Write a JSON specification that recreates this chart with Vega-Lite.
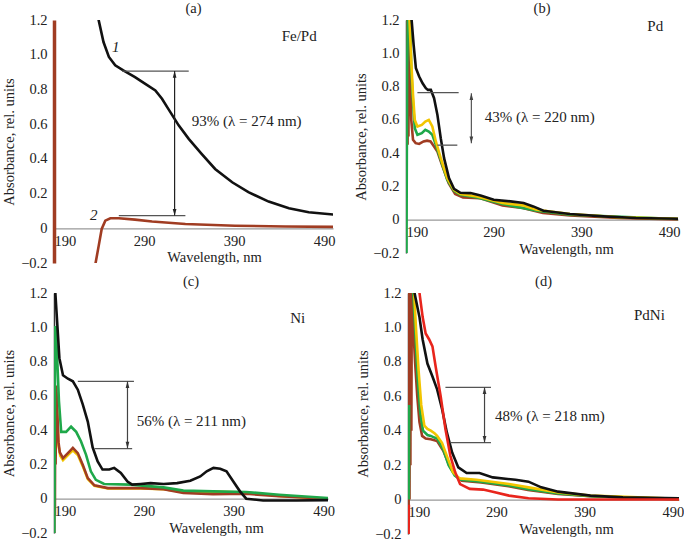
{
  "$schema": "https://vega.github.io/schema/vega-lite/v6.json",
  "background": "white",
  "padding": {"left": 1, "top": 0, "right": 0, "bottom": 0},
  "config": {
    "font": "Liberation Serif",
    "view": {"stroke": null},
    "axis": {"labelFont": "Liberation Serif", "titleFont": "Liberation Serif", "labelFontSize": 14.5, "titleFontSize": 14.5, "titleFontWeight": "normal", "labelColor": "#222", "titleColor": "#222", "grid": false, "labelOverlap": false},
    "axisY": {"labelFlush": false, "labelOverlap": false, "tickCount": 12},
    "axisX": {"tickCount": 8},
    "title": {"font": "Liberation Serif", "fontSize": 14.5, "fontWeight": "normal", "color": "#222", "offset": -4},
    "line": {"strokeWidth": 2.5, "clip": true},
    "text": {"font": "Liberation Serif", "fontSize": 15, "color": "#222"}
  },
  "datasets": {
    "curves": [
      {"panel":"a","series":"2","seg":"a2","wl":235.5,"abs":-0.25},
      {"panel":"a","series":"2","seg":"a2","wl":236,"abs":-0.206},
      {"panel":"a","series":"2","seg":"a2","wl":239.7,"abs":-0.1},
      {"panel":"a","series":"2","seg":"a2","wl":243,"abs":-0.004},
      {"panel":"a","series":"2","seg":"a2","wl":247,"abs":0.044},
      {"panel":"a","series":"2","seg":"a2","wl":252.6,"abs":0.058},
      {"panel":"a","series":"2","seg":"a2","wl":262,"abs":0.058},
      {"panel":"a","series":"2","seg":"a2","wl":280,"abs":0.05},
      {"panel":"a","series":"2","seg":"a2","wl":299,"abs":0.039},
      {"panel":"a","series":"2","seg":"a2","wl":336,"abs":0.025},
      {"panel":"a","series":"2","seg":"a2","wl":391,"abs":0.015},
      {"panel":"a","series":"2","seg":"a2","wl":447,"abs":0.01},
      {"panel":"a","series":"2","seg":"a2","wl":501,"abs":0.008},
      {"panel":"a","series":"1","seg":"a1","wl":238.8,"abs":1.28},
      {"panel":"a","series":"1","seg":"a1","wl":239.6,"abs":1.2},
      {"panel":"a","series":"1","seg":"a1","wl":245,"abs":1.073},
      {"panel":"a","series":"1","seg":"a1","wl":251,"abs":0.987},
      {"panel":"a","series":"1","seg":"a1","wl":258,"abs":0.939},
      {"panel":"a","series":"1","seg":"a1","wl":267,"abs":0.91},
      {"panel":"a","series":"1","seg":"a1","wl":280,"abs":0.871},
      {"panel":"a","series":"1","seg":"a1","wl":291,"abs":0.833},
      {"panel":"a","series":"1","seg":"a1","wl":302.6,"abs":0.794},
      {"panel":"a","series":"1","seg":"a1","wl":310,"abs":0.746},
      {"panel":"a","series":"1","seg":"a1","wl":317,"abs":0.688},
      {"panel":"a","series":"1","seg":"a1","wl":328.5,"abs":0.593},
      {"panel":"a","series":"1","seg":"a1","wl":339.7,"abs":0.515},
      {"panel":"a","series":"1","seg":"a1","wl":354,"abs":0.429},
      {"panel":"a","series":"1","seg":"a1","wl":369,"abs":0.342},
      {"panel":"a","series":"1","seg":"a1","wl":388,"abs":0.265},
      {"panel":"a","series":"1","seg":"a1","wl":406,"abs":0.208},
      {"panel":"a","series":"1","seg":"a1","wl":428.5,"abs":0.154},
      {"panel":"a","series":"1","seg":"a1","wl":451,"abs":0.115},
      {"panel":"a","series":"1","seg":"a1","wl":473,"abs":0.092},
      {"panel":"a","series":"1","seg":"a1","wl":501,"abs":0.079},

      {"panel":"b","series":"2","seg":"b2","wl":190.3,"abs":1.3},
      {"panel":"b","series":"2","seg":"b2","wl":190.8,"abs":0.45},
      {"panel":"b","series":"2","seg":"b2","wl":191.3,"abs":1.3},
      {"panel":"b","series":"2","seg":"b2","wl":191.8,"abs":0.45},
      {"panel":"b","series":"2","seg":"b2","wl":192.3,"abs":1.3},
      {"panel":"b","series":"2","seg":"b2","wl":192.8,"abs":0.5},
      {"panel":"b","series":"2","seg":"b2","wl":193.3,"abs":1.3},
      {"panel":"b","series":"2","seg":"b2","wl":194.5,"abs":0.9},
      {"panel":"b","series":"2","seg":"b2","wl":196,"abs":0.6},
      {"panel":"b","series":"2","seg":"b2","wl":198,"abs":0.48},
      {"panel":"b","series":"2","seg":"b2","wl":201,"abs":0.46},
      {"panel":"b","series":"2","seg":"b2","wl":205,"abs":0.455},
      {"panel":"b","series":"2","seg":"b2","wl":210,"abs":0.47},
      {"panel":"b","series":"2","seg":"b2","wl":214,"abs":0.475},
      {"panel":"b","series":"2","seg":"b2","wl":218,"abs":0.47},
      {"panel":"b","series":"2","seg":"b2","wl":222,"abs":0.44},
      {"panel":"b","series":"2","seg":"b2","wl":225.8,"abs":0.41},
      {"panel":"b","series":"2","seg":"b2","wl":231,"abs":0.33},
      {"panel":"b","series":"2","seg":"b2","wl":238.6,"abs":0.22},
      {"panel":"b","series":"2","seg":"b2","wl":246,"abs":0.154},
      {"panel":"b","series":"2","seg":"b2","wl":255,"abs":0.134},
      {"panel":"b","series":"2","seg":"b2","wl":274,"abs":0.13},
      {"panel":"b","series":"2","seg":"b2","wl":300,"abs":0.086},
      {"panel":"b","series":"2","seg":"b2","wl":323,"abs":0.07},
      {"panel":"b","series":"2","seg":"b2","wl":346,"abs":0.04},
      {"panel":"b","series":"2","seg":"b2","wl":377,"abs":0.026},
      {"panel":"b","series":"2","seg":"b2","wl":433,"abs":0.01},
      {"panel":"b","series":"2","seg":"b2","wl":500,"abs":0.002},
      {"panel":"b","series":"4","seg":"b4","wl":190.5,"abs":-0.25},
      {"panel":"b","series":"4","seg":"b4","wl":191.3,"abs":0.9},
      {"panel":"b","series":"4","seg":"b4","wl":192.3,"abs":1.3},
      {"panel":"b","series":"4","seg":"b4","wl":194.5,"abs":1.3},
      {"panel":"b","series":"4","seg":"b4","wl":196,"abs":0.9},
      {"panel":"b","series":"4","seg":"b4","wl":198,"abs":0.7},
      {"panel":"b","series":"4","seg":"b4","wl":200,"abs":0.55},
      {"panel":"b","series":"4","seg":"b4","wl":203,"abs":0.51},
      {"panel":"b","series":"4","seg":"b4","wl":208,"abs":0.52},
      {"panel":"b","series":"4","seg":"b4","wl":212,"abs":0.54},
      {"panel":"b","series":"4","seg":"b4","wl":216,"abs":0.53},
      {"panel":"b","series":"4","seg":"b4","wl":220,"abs":0.51},
      {"panel":"b","series":"4","seg":"b4","wl":224,"abs":0.45},
      {"panel":"b","series":"4","seg":"b4","wl":229.6,"abs":0.36},
      {"panel":"b","series":"4","seg":"b4","wl":237,"abs":0.24},
      {"panel":"b","series":"4","seg":"b4","wl":244.7,"abs":0.174},
      {"panel":"b","series":"4","seg":"b4","wl":252,"abs":0.15},
      {"panel":"b","series":"4","seg":"b4","wl":271,"abs":0.134},
      {"panel":"b","series":"4","seg":"b4","wl":300,"abs":0.094},
      {"panel":"b","series":"4","seg":"b4","wl":339,"abs":0.054},
      {"panel":"b","series":"4","seg":"b4","wl":377,"abs":0.03},
      {"panel":"b","series":"4","seg":"b4","wl":500,"abs":0.004},
      {"panel":"b","series":"3","seg":"b3","wl":193.5,"abs":1.3},
      {"panel":"b","series":"3","seg":"b3","wl":194,"abs":1.2},
      {"panel":"b","series":"3","seg":"b3","wl":196,"abs":0.95},
      {"panel":"b","series":"3","seg":"b3","wl":198,"abs":0.75},
      {"panel":"b","series":"3","seg":"b3","wl":200,"abs":0.6},
      {"panel":"b","series":"3","seg":"b3","wl":203,"abs":0.56},
      {"panel":"b","series":"3","seg":"b3","wl":208,"abs":0.57},
      {"panel":"b","series":"3","seg":"b3","wl":212,"abs":0.59},
      {"panel":"b","series":"3","seg":"b3","wl":216,"abs":0.6},
      {"panel":"b","series":"3","seg":"b3","wl":220,"abs":0.56},
      {"panel":"b","series":"3","seg":"b3","wl":224,"abs":0.47},
      {"panel":"b","series":"3","seg":"b3","wl":229.6,"abs":0.37},
      {"panel":"b","series":"3","seg":"b3","wl":237,"abs":0.25},
      {"panel":"b","series":"3","seg":"b3","wl":244.7,"abs":0.18},
      {"panel":"b","series":"3","seg":"b3","wl":252,"abs":0.154},
      {"panel":"b","series":"3","seg":"b3","wl":271,"abs":0.14},
      {"panel":"b","series":"3","seg":"b3","wl":300,"abs":0.1},
      {"panel":"b","series":"3","seg":"b3","wl":324,"abs":0.086},
      {"panel":"b","series":"3","seg":"b3","wl":339,"abs":0.06},
      {"panel":"b","series":"3","seg":"b3","wl":377,"abs":0.034},
      {"panel":"b","series":"3","seg":"b3","wl":433,"abs":0.014},
      {"panel":"b","series":"3","seg":"b3","wl":500,"abs":0.006},
      {"panel":"b","series":"1","seg":"b1","wl":196,"abs":1.3},
      {"panel":"b","series":"1","seg":"b1","wl":196.4,"abs":1.2},
      {"panel":"b","series":"1","seg":"b1","wl":198.7,"abs":1.05},
      {"panel":"b","series":"1","seg":"b1","wl":201.3,"abs":0.91},
      {"panel":"b","series":"1","seg":"b1","wl":205,"abs":0.86},
      {"panel":"b","series":"1","seg":"b1","wl":208.9,"abs":0.82},
      {"panel":"b","series":"1","seg":"b1","wl":212.6,"abs":0.79},
      {"panel":"b","series":"1","seg":"b1","wl":215,"abs":0.78},
      {"panel":"b","series":"1","seg":"b1","wl":218.3,"abs":0.78},
      {"panel":"b","series":"1","seg":"b1","wl":222,"abs":0.73},
      {"panel":"b","series":"1","seg":"b1","wl":225.8,"abs":0.63},
      {"panel":"b","series":"1","seg":"b1","wl":229.6,"abs":0.49},
      {"panel":"b","series":"1","seg":"b1","wl":233.4,"abs":0.37},
      {"panel":"b","series":"1","seg":"b1","wl":239,"abs":0.25},
      {"panel":"b","series":"1","seg":"b1","wl":244.7,"abs":0.186},
      {"panel":"b","series":"1","seg":"b1","wl":252,"abs":0.162},
      {"panel":"b","series":"1","seg":"b1","wl":263.6,"abs":0.16},
      {"panel":"b","series":"1","seg":"b1","wl":275,"abs":0.146},
      {"panel":"b","series":"1","seg":"b1","wl":290,"abs":0.12},
      {"panel":"b","series":"1","seg":"b1","wl":309,"abs":0.11},
      {"panel":"b","series":"1","seg":"b1","wl":324,"abs":0.1},
      {"panel":"b","series":"1","seg":"b1","wl":335,"abs":0.08},
      {"panel":"b","series":"1","seg":"b1","wl":346.6,"abs":0.054},
      {"panel":"b","series":"1","seg":"b1","wl":376.8,"abs":0.034},
      {"panel":"b","series":"1","seg":"b1","wl":414.5,"abs":0.02},
      {"panel":"b","series":"1","seg":"b1","wl":452,"abs":0.01},
      {"panel":"b","series":"1","seg":"b1","wl":500,"abs":0.006},

      {"panel":"c","series":"3","seg":"c3","wl":192.5,"abs":0.62},
      {"panel":"c","series":"3","seg":"c3","wl":195,"abs":0.31},
      {"panel":"c","series":"3","seg":"c3","wl":197,"abs":0.25},
      {"panel":"c","series":"3","seg":"c3","wl":200,"abs":0.225},
      {"panel":"c","series":"3","seg":"c3","wl":205.5,"abs":0.255},
      {"panel":"c","series":"3","seg":"c3","wl":211,"abs":0.282},
      {"panel":"c","series":"3","seg":"c3","wl":216.5,"abs":0.255},
      {"panel":"c","series":"3","seg":"c3","wl":222,"abs":0.19},
      {"panel":"c","series":"3","seg":"c3","wl":227.6,"abs":0.115},
      {"panel":"c","series":"3","seg":"c3","wl":235,"abs":0.075},
      {"panel":"c","series":"3","seg":"c3","wl":250,"abs":0.06},
      {"panel":"c","series":"3","seg":"c3","wl":286.5,"abs":0.06},
      {"panel":"c","series":"3","seg":"c3","wl":312,"abs":0.055},
      {"panel":"c","series":"3","seg":"c3","wl":334,"abs":0.04},
      {"panel":"c","series":"3","seg":"c3","wl":367,"abs":0.042},
      {"panel":"c","series":"3","seg":"c3","wl":404,"abs":0.036},
      {"panel":"c","series":"3","seg":"c3","wl":440.6,"abs":0.016},
      {"panel":"c","series":"3","seg":"c3","wl":495,"abs":0.0},
      {"panel":"c","series":"2","seg":"c2","wl":190.2,"abs":-0.25},
      {"panel":"c","series":"2","seg":"c2","wl":190.6,"abs":0.66},
      {"panel":"c","series":"2","seg":"c2","wl":191,"abs":-0.1},
      {"panel":"c","series":"2","seg":"c2","wl":191.4,"abs":0.66},
      {"panel":"c","series":"2","seg":"c2","wl":191.8,"abs":0.2},
      {"panel":"c","series":"2","seg":"c2","wl":192.5,"abs":0.66},
      {"panel":"c","series":"2","seg":"c2","wl":193.7,"abs":0.5},
      {"panel":"c","series":"2","seg":"c2","wl":195,"abs":0.33},
      {"panel":"c","series":"2","seg":"c2","wl":196.5,"abs":0.27},
      {"panel":"c","series":"2","seg":"c2","wl":200,"abs":0.237},
      {"panel":"c","series":"2","seg":"c2","wl":205.5,"abs":0.266},
      {"panel":"c","series":"2","seg":"c2","wl":211,"abs":0.296},
      {"panel":"c","series":"2","seg":"c2","wl":216.5,"abs":0.266},
      {"panel":"c","series":"2","seg":"c2","wl":222,"abs":0.198},
      {"panel":"c","series":"2","seg":"c2","wl":227.6,"abs":0.12},
      {"panel":"c","series":"2","seg":"c2","wl":235,"abs":0.078},
      {"panel":"c","series":"2","seg":"c2","wl":250,"abs":0.062},
      {"panel":"c","series":"2","seg":"c2","wl":286.5,"abs":0.062},
      {"panel":"c","series":"2","seg":"c2","wl":312,"abs":0.056},
      {"panel":"c","series":"2","seg":"c2","wl":334,"abs":0.033},
      {"panel":"c","series":"2","seg":"c2","wl":367,"abs":0.027},
      {"panel":"c","series":"2","seg":"c2","wl":404,"abs":0.029},
      {"panel":"c","series":"2","seg":"c2","wl":440.6,"abs":0.014},
      {"panel":"c","series":"2","seg":"c2","wl":495,"abs":0.0},
      {"panel":"c","series":"4","seg":"c4","wl":190.3,"abs":-0.25},
      {"panel":"c","series":"4","seg":"c4","wl":190.8,"abs":0.3},
      {"panel":"c","series":"4","seg":"c4","wl":191.3,"abs":1.0},
      {"panel":"c","series":"4","seg":"c4","wl":192,"abs":1.0},
      {"panel":"c","series":"4","seg":"c4","wl":193.7,"abs":0.8},
      {"panel":"c","series":"4","seg":"c4","wl":195.5,"abs":0.57},
      {"panel":"c","series":"4","seg":"c4","wl":198,"abs":0.39},
      {"panel":"c","series":"4","seg":"c4","wl":203.5,"abs":0.39},
      {"panel":"c","series":"4","seg":"c4","wl":209,"abs":0.42},
      {"panel":"c","series":"4","seg":"c4","wl":214.7,"abs":0.39},
      {"panel":"c","series":"4","seg":"c4","wl":220,"abs":0.335},
      {"panel":"c","series":"4","seg":"c4","wl":225.6,"abs":0.257},
      {"panel":"c","series":"4","seg":"c4","wl":231,"abs":0.16},
      {"panel":"c","series":"4","seg":"c4","wl":236.6,"abs":0.11},
      {"panel":"c","series":"4","seg":"c4","wl":245.8,"abs":0.086},
      {"panel":"c","series":"4","seg":"c4","wl":275,"abs":0.082},
      {"panel":"c","series":"4","seg":"c4","wl":312,"abs":0.066},
      {"panel":"c","series":"4","seg":"c4","wl":334,"abs":0.047},
      {"panel":"c","series":"4","seg":"c4","wl":367,"abs":0.043},
      {"panel":"c","series":"4","seg":"c4","wl":404,"abs":0.039},
      {"panel":"c","series":"4","seg":"c4","wl":440.6,"abs":0.023},
      {"panel":"c","series":"4","seg":"c4","wl":495,"abs":0.004},
      {"panel":"c","series":"1","seg":"c1","wl":191.2,"abs":1.3},
      {"panel":"c","series":"1","seg":"c1","wl":191.5,"abs":1.2},
      {"panel":"c","series":"1","seg":"c1","wl":193.7,"abs":1.015},
      {"panel":"c","series":"1","seg":"c1","wl":196,"abs":0.82},
      {"panel":"c","series":"1","seg":"c1","wl":200,"abs":0.72},
      {"panel":"c","series":"1","seg":"c1","wl":205.5,"abs":0.7},
      {"panel":"c","series":"1","seg":"c1","wl":211,"abs":0.685},
      {"panel":"c","series":"1","seg":"c1","wl":216.5,"abs":0.636},
      {"panel":"c","series":"1","seg":"c1","wl":222,"abs":0.55},
      {"panel":"c","series":"1","seg":"c1","wl":227.6,"abs":0.45},
      {"panel":"c","series":"1","seg":"c1","wl":233,"abs":0.3},
      {"panel":"c","series":"1","seg":"c1","wl":238.6,"abs":0.218},
      {"panel":"c","series":"1","seg":"c1","wl":244,"abs":0.17},
      {"panel":"c","series":"1","seg":"c1","wl":251.5,"abs":0.17},
      {"panel":"c","series":"1","seg":"c1","wl":257,"abs":0.18},
      {"panel":"c","series":"1","seg":"c1","wl":264.4,"abs":0.15},
      {"panel":"c","series":"1","seg":"c1","wl":271.8,"abs":0.1},
      {"panel":"c","series":"1","seg":"c1","wl":277,"abs":0.082},
      {"panel":"c","series":"1","seg":"c1","wl":286.5,"abs":0.086},
      {"panel":"c","series":"1","seg":"c1","wl":297.5,"abs":0.091},
      {"panel":"c","series":"1","seg":"c1","wl":312,"abs":0.086},
      {"panel":"c","series":"1","seg":"c1","wl":327,"abs":0.091},
      {"panel":"c","series":"1","seg":"c1","wl":341.7,"abs":0.105},
      {"panel":"c","series":"1","seg":"c1","wl":352.8,"abs":0.13},
      {"panel":"c","series":"1","seg":"c1","wl":360,"abs":0.16},
      {"panel":"c","series":"1","seg":"c1","wl":367.5,"abs":0.18},
      {"panel":"c","series":"1","seg":"c1","wl":375,"abs":0.175},
      {"panel":"c","series":"1","seg":"c1","wl":382,"abs":0.16},
      {"panel":"c","series":"1","seg":"c1","wl":389.6,"abs":0.1},
      {"panel":"c","series":"1","seg":"c1","wl":397,"abs":0.043},
      {"panel":"c","series":"1","seg":"c1","wl":404,"abs":0.0},
      {"panel":"c","series":"1","seg":"c1","wl":422.8,"abs":-0.01},
      {"panel":"c","series":"1","seg":"c1","wl":459.6,"abs":-0.01},
      {"panel":"c","series":"1","seg":"c1","wl":495,"abs":-0.008},

      {"panel":"d","series":"2","seg":"d2","wl":190.2,"abs":1.3},
      {"panel":"d","series":"2","seg":"d2","wl":190.7,"abs":-0.15},
      {"panel":"d","series":"2","seg":"d2","wl":191.2,"abs":1.3},
      {"panel":"d","series":"2","seg":"d2","wl":191.7,"abs":0.0},
      {"panel":"d","series":"2","seg":"d2","wl":192.2,"abs":1.3},
      {"panel":"d","series":"2","seg":"d2","wl":192.7,"abs":0.2},
      {"panel":"d","series":"2","seg":"d2","wl":193.2,"abs":1.3},
      {"panel":"d","series":"2","seg":"d2","wl":193.8,"abs":0.4},
      {"panel":"d","series":"2","seg":"d2","wl":194.4,"abs":1.3},
      {"panel":"d","series":"2","seg":"d2","wl":196,"abs":1.0},
      {"panel":"d","series":"2","seg":"d2","wl":198,"abs":0.8},
      {"panel":"d","series":"2","seg":"d2","wl":200.5,"abs":0.6},
      {"panel":"d","series":"2","seg":"d2","wl":203,"abs":0.45},
      {"panel":"d","series":"2","seg":"d2","wl":206,"abs":0.37},
      {"panel":"d","series":"2","seg":"d2","wl":210,"abs":0.355},
      {"panel":"d","series":"2","seg":"d2","wl":215.8,"abs":0.35},
      {"panel":"d","series":"2","seg":"d2","wl":223,"abs":0.34},
      {"panel":"d","series":"2","seg":"d2","wl":230,"abs":0.283},
      {"panel":"d","series":"2","seg":"d2","wl":237,"abs":0.196},
      {"panel":"d","series":"2","seg":"d2","wl":244,"abs":0.138},
      {"panel":"d","series":"2","seg":"d2","wl":251,"abs":0.11},
      {"panel":"d","series":"2","seg":"d2","wl":273,"abs":0.1},
      {"panel":"d","series":"2","seg":"d2","wl":304,"abs":0.077},
      {"panel":"d","series":"2","seg":"d2","wl":326,"abs":0.056},
      {"panel":"d","series":"2","seg":"d2","wl":360,"abs":0.033},
      {"panel":"d","series":"2","seg":"d2","wl":397,"abs":0.019},
      {"panel":"d","series":"2","seg":"d2","wl":497,"abs":0.0},
      {"panel":"d","series":"4","seg":"d4v","wl":190.9,"abs":0.0},
      {"panel":"d","series":"4","seg":"d4v","wl":191.3,"abs":0.55},
      {"panel":"d","series":"4","seg":"d4","wl":195,"abs":1.3},
      {"panel":"d","series":"4","seg":"d4","wl":198,"abs":1.0},
      {"panel":"d","series":"4","seg":"d4","wl":201,"abs":0.7},
      {"panel":"d","series":"4","seg":"d4","wl":204,"abs":0.5},
      {"panel":"d","series":"4","seg":"d4","wl":207,"abs":0.4},
      {"panel":"d","series":"4","seg":"d4","wl":212,"abs":0.375},
      {"panel":"d","series":"4","seg":"d4","wl":215.8,"abs":0.37},
      {"panel":"d","series":"4","seg":"d4","wl":220,"abs":0.36},
      {"panel":"d","series":"4","seg":"d4","wl":223,"abs":0.355},
      {"panel":"d","series":"4","seg":"d4","wl":230,"abs":0.29},
      {"panel":"d","series":"4","seg":"d4","wl":236,"abs":0.2},
      {"panel":"d","series":"4","seg":"d4","wl":243,"abs":0.14},
      {"panel":"d","series":"4","seg":"d4","wl":250,"abs":0.115},
      {"panel":"d","series":"4","seg":"d4","wl":270,"abs":0.105},
      {"panel":"d","series":"4","seg":"d4","wl":304,"abs":0.082},
      {"panel":"d","series":"4","seg":"d4","wl":326,"abs":0.06},
      {"panel":"d","series":"4","seg":"d4","wl":360,"abs":0.036},
      {"panel":"d","series":"4","seg":"d4","wl":397,"abs":0.02},
      {"panel":"d","series":"4","seg":"d4","wl":497,"abs":0.002},
      {"panel":"d","series":"3","seg":"d3","wl":196,"abs":1.3},
      {"panel":"d","series":"3","seg":"d3","wl":199,"abs":1.0},
      {"panel":"d","series":"3","seg":"d3","wl":202,"abs":0.75},
      {"panel":"d","series":"3","seg":"d3","wl":205,"abs":0.55},
      {"panel":"d","series":"3","seg":"d3","wl":208.5,"abs":0.43},
      {"panel":"d","series":"3","seg":"d3","wl":212,"abs":0.41},
      {"panel":"d","series":"3","seg":"d3","wl":215.8,"abs":0.4},
      {"panel":"d","series":"3","seg":"d3","wl":220,"abs":0.385},
      {"panel":"d","series":"3","seg":"d3","wl":223,"abs":0.37},
      {"panel":"d","series":"3","seg":"d3","wl":228.5,"abs":0.33},
      {"panel":"d","series":"3","seg":"d3","wl":234,"abs":0.254},
      {"panel":"d","series":"3","seg":"d3","wl":241,"abs":0.158},
      {"panel":"d","series":"3","seg":"d3","wl":248.5,"abs":0.123},
      {"panel":"d","series":"3","seg":"d3","wl":267.5,"abs":0.115},
      {"panel":"d","series":"3","seg":"d3","wl":304.4,"abs":0.09},
      {"panel":"d","series":"3","seg":"d3","wl":326.5,"abs":0.071},
      {"panel":"d","series":"3","seg":"d3","wl":360,"abs":0.042},
      {"panel":"d","series":"3","seg":"d3","wl":396.6,"abs":0.023},
      {"panel":"d","series":"3","seg":"d3","wl":497,"abs":0.004},
      {"panel":"d","series":"1","seg":"d1","wl":197,"abs":1.3},
      {"panel":"d","series":"1","seg":"d1","wl":197.4,"abs":1.2},
      {"panel":"d","series":"1","seg":"d1","wl":203,"abs":1.06},
      {"panel":"d","series":"1","seg":"d1","wl":206.6,"abs":0.93},
      {"panel":"d","series":"1","seg":"d1","wl":212,"abs":0.79},
      {"panel":"d","series":"1","seg":"d1","wl":217.7,"abs":0.715},
      {"panel":"d","series":"1","seg":"d1","wl":223,"abs":0.64},
      {"panel":"d","series":"1","seg":"d1","wl":228.7,"abs":0.523},
      {"panel":"d","series":"1","seg":"d1","wl":234,"abs":0.39},
      {"panel":"d","series":"1","seg":"d1","wl":240,"abs":0.273},
      {"panel":"d","series":"1","seg":"d1","wl":247,"abs":0.187},
      {"panel":"d","series":"1","seg":"d1","wl":256.4,"abs":0.154},
      {"panel":"d","series":"1","seg":"d1","wl":271,"abs":0.154},
      {"panel":"d","series":"1","seg":"d1","wl":286,"abs":0.129},
      {"panel":"d","series":"1","seg":"d1","wl":311.8,"abs":0.115},
      {"panel":"d","series":"1","seg":"d1","wl":326.5,"abs":0.104},
      {"panel":"d","series":"1","seg":"d1","wl":341,"abs":0.071},
      {"panel":"d","series":"1","seg":"d1","wl":360,"abs":0.046},
      {"panel":"d","series":"1","seg":"d1","wl":396.6,"abs":0.023},
      {"panel":"d","series":"1","seg":"d1","wl":433.5,"abs":0.013},
      {"panel":"d","series":"1","seg":"d1","wl":497,"abs":0.008},
      {"panel":"d","series":"5","seg":"d5v","wl":190.6,"abs":-0.25},
      {"panel":"d","series":"5","seg":"d5v","wl":191,"abs":-0.03},
      {"panel":"d","series":"5","seg":"d5","wl":202,"abs":1.3},
      {"panel":"d","series":"5","seg":"d5","wl":203,"abs":1.2},
      {"panel":"d","series":"5","seg":"d5","wl":206.6,"abs":1.06},
      {"panel":"d","series":"5","seg":"d5","wl":210,"abs":0.965},
      {"panel":"d","series":"5","seg":"d5","wl":214,"abs":0.93},
      {"panel":"d","series":"5","seg":"d5","wl":217.7,"abs":0.89},
      {"panel":"d","series":"5","seg":"d5","wl":221.4,"abs":0.77},
      {"panel":"d","series":"5","seg":"d5","wl":227,"abs":0.6},
      {"panel":"d","series":"5","seg":"d5","wl":232.4,"abs":0.41},
      {"panel":"d","series":"5","seg":"d5","wl":238,"abs":0.254},
      {"panel":"d","series":"5","seg":"d5","wl":243.5,"abs":0.158},
      {"panel":"d","series":"5","seg":"d5","wl":249,"abs":0.09},
      {"panel":"d","series":"5","seg":"d5","wl":260,"abs":0.062},
      {"panel":"d","series":"5","seg":"d5","wl":275,"abs":0.058},
      {"panel":"d","series":"5","seg":"d5","wl":286,"abs":0.046},
      {"panel":"d","series":"5","seg":"d5","wl":304.4,"abs":0.023},
      {"panel":"d","series":"5","seg":"d5","wl":326.5,"abs":0.008},
      {"panel":"d","series":"5","seg":"d5","wl":360,"abs":0.0},
      {"panel":"d","series":"5","seg":"d5","wl":497,"abs":0.0}
    ],
    "hlines": [
      {"panel":"a","wl":265.6,"wl2":339.7,"abs":0.906},
      {"panel":"a","wl":262,"wl2":336,"abs":0.073},
      {"panel":"b","wl":203,"wl2":250,"abs":0.764},
      {"panel":"b","wl":225.8,"wl2":248.5,"abs":0.448},
      {"panel":"c","wl":216.5,"wl2":279,"abs":0.685},
      {"panel":"c","wl":235,"wl2":277,"abs":0.292},
      {"panel":"d","wl":232.4,"wl2":284,"abs":0.652},
      {"panel":"d","wl":238,"wl2":284,"abs":0.331}
    ],
    "vlines": [
      {"panel":"a","wl":324,"abs":0.073,"abs2":0.906},
      {"panel":"b","wl":264.5,"abs":0.46,"abs2":0.76},
      {"panel":"c","wl":271.8,"abs":0.292,"abs2":0.685},
      {"panel":"d","wl":276.7,"abs":0.331,"abs2":0.652}
    ],
    "heads": [
      {"panel":"a","wl":324,"abs":0.887,"dir":"up"},
      {"panel":"a","wl":324,"abs":0.092,"dir":"down"},
      {"panel":"b","wl":264.5,"abs":0.74,"dir":"up"},
      {"panel":"b","wl":264.5,"abs":0.48,"dir":"down"},
      {"panel":"c","wl":271.8,"abs":0.665,"dir":"up"},
      {"panel":"c","wl":271.8,"abs":0.312,"dir":"down"},
      {"panel":"d","wl":276.7,"abs":0.633,"dir":"up"},
      {"panel":"d","wl":276.7,"abs":0.35,"dir":"down"}
    ],
    "notes": [
      {"panel":"a","kind":"note","wl":343,"abs":0.62,"text":"93% (λ = 274 nm)"},
      {"panel":"a","kind":"note","wl":443,"abs":1.11,"text":"Fe/Pd"},
      {"panel":"a","kind":"curve","wl":254.4,"abs":1.044,"text":"1"},
      {"panel":"a","kind":"curve","wl":230,"abs":0.078,"text":"2"},
      {"panel":"b","kind":"note","wl":279.8,"abs":0.62,"text":"43% (λ = 220 nm)"},
      {"panel":"b","kind":"note","wl":465,"abs":1.166,"text":"Pd"},
      {"panel":"c","kind":"note","wl":282,"abs":0.451,"text":"56% (λ = 211 nm)"},
      {"panel":"c","kind":"note","wl":453,"abs":1.054,"text":"Ni"},
      {"panel":"d","kind":"note","wl":288.5,"abs":0.485,"text":"48% (λ = 218 nm)"},
      {"panel":"d","kind":"note","wl":446,"abs":1.07,"text":"PdNi"}
    ]
  },
  "vconcat": [
    {
      "hconcat": [
        {
          "width": 279, "height": 243,
          "title": {"text": "(a)"},
          "layer": [
            {"data": {"name": "curves"}, "transform": [{"filter": "datum.panel == 'a'"}], "mark": {"type": "line", "clip": true, "strokeWidth": 2.6},
             "encoding": {
               "x": {"field": "wl", "type": "quantitative", "scale": {"domain": [190, 500], "nice": false, "zero": false}, "axis": {"title": "Wavelength, nm", "values": [190, 290, 390, 490], "tickCount": 8, "offset": -34.7, "labelFlush": true, "labelOverlap": false, "ticks": false, "labelPadding": 6, "domainColor": "#999", "domainWidth": 1.2, "titleX": 160, "titlePadding": 3}},
               "y": {"field": "abs", "type": "quantitative", "scale": {"domain": [-0.2, 1.2], "nice": false}, "axis": {"title": "Absorbance, rel. units", "values": [-0.2, 0, 0.2, 0.4, 0.6, 0.8, 1.0, 1.2], "tickCount": 12, "labelExpr": "datum.value == 0 ? '0' : format(datum.value, '.1f')", "labelOverlap": false, "labelFlush": false, "ticks": false, "labelPadding": 7, "domainColor": "#a03c22", "domainWidth": 3.5, "titlePadding": 4}},
               "color": {"field": "series", "type": "nominal", "scale": {"domain": ["1", "2", "3", "4", "5"], "range": ["#111111", "#a03c22", "#f2c500", "#1fa84a", "#e8251c"]}, "legend": null},
               "detail": {"field": "seg"}
             }},
            {"data": {"name": "hlines"}, "transform": [{"filter": "datum.panel == 'a'"}], "mark": {"type": "rule", "color": "#555", "strokeWidth": 1.3},
             "encoding": {"x": {"field": "wl", "type": "quantitative"}, "x2": {"field": "wl2"}, "y": {"field": "abs", "type": "quantitative"}}},
            {"data": {"name": "vlines"}, "transform": [{"filter": "datum.panel == 'a'"}], "mark": {"type": "rule", "color": "#222", "strokeWidth": 1.2},
             "encoding": {"x": {"field": "wl", "type": "quantitative"}, "y": {"field": "abs", "type": "quantitative"}, "y2": {"field": "abs2"}}},
            {"data": {"name": "heads"}, "transform": [{"filter": "datum.panel == 'a'"}], "mark": {"type": "point", "filled": true, "size": 45, "opacity": 1, "color": "#222"},
             "encoding": {"x": {"field": "wl", "type": "quantitative"}, "y": {"field": "abs", "type": "quantitative"}, "shape": {"field": "dir", "type": "nominal", "scale": {"domain": ["up", "down"], "range": ["M0,-1L0.55,1L-0.55,1Z", "M0,1L0.55,-1L-0.55,-1Z"]}, "legend": null}}},
            {"data": {"name": "notes"}, "transform": [{"filter": "datum.panel == 'a' && datum.kind == 'note'"}], "mark": {"type": "text", "align": "left", "baseline": "middle", "fontSize": 15},
             "encoding": {"x": {"field": "wl", "type": "quantitative"}, "y": {"field": "abs", "type": "quantitative"}, "text": {"field": "text"}}},
            {"data": {"name": "notes"}, "transform": [{"filter": "datum.panel == 'a' && datum.kind == 'curve'"}], "mark": {"type": "text", "align": "left", "baseline": "middle", "fontSize": 15, "fontStyle": "italic"},
             "encoding": {"x": {"field": "wl", "type": "quantitative"}, "y": {"field": "abs", "type": "quantitative"}, "text": {"field": "text"}}}
          ]
        },
        {
          "width": 272, "height": 233,
          "title": {"text": "(b)"},
          "layer": [
            {"data": {"name": "curves"}, "transform": [{"filter": "datum.panel == 'b'"}], "mark": {"type": "line", "clip": true, "strokeWidth": 2.6},
             "encoding": {
               "x": {"field": "wl", "type": "quantitative", "scale": {"domain": [190, 500], "nice": false, "zero": false}, "axis": {"title": "Wavelength, nm", "values": [190, 290, 390, 490], "tickCount": 8, "offset": -33.3, "labelFlush": true, "labelOverlap": false, "ticks": false, "labelPadding": 6, "domainColor": "#999", "domainWidth": 1.2, "titleX": 160, "titlePadding": 3}},
               "y": {"field": "abs", "type": "quantitative", "scale": {"domain": [-0.2, 1.2], "nice": false}, "axis": {"title": "Absorbance, rel. units", "values": [-0.2, 0, 0.2, 0.4, 0.6, 0.8, 1.0, 1.2], "tickCount": 12, "labelExpr": "datum.value == 0 ? '0' : format(datum.value, '.1f')", "labelOverlap": false, "labelFlush": false, "ticks": false, "labelPadding": 7, "domainColor": "#333", "domainWidth": 1.5, "titlePadding": 4}},
               "color": {"field": "series", "type": "nominal", "scale": {"domain": ["1", "2", "3", "4", "5"], "range": ["#111111", "#a03c22", "#f2c500", "#1fa84a", "#e8251c"]}, "legend": null},
               "detail": {"field": "seg"}
             }},
            {"data": {"name": "hlines"}, "transform": [{"filter": "datum.panel == 'b'"}], "mark": {"type": "rule", "color": "#555", "strokeWidth": 1.3},
             "encoding": {"x": {"field": "wl", "type": "quantitative"}, "x2": {"field": "wl2"}, "y": {"field": "abs", "type": "quantitative"}}},
            {"data": {"name": "vlines"}, "transform": [{"filter": "datum.panel == 'b'"}], "mark": {"type": "rule", "color": "#555", "strokeWidth": 1.2},
             "encoding": {"x": {"field": "wl", "type": "quantitative"}, "y": {"field": "abs", "type": "quantitative"}, "y2": {"field": "abs2"}}},
            {"data": {"name": "heads"}, "transform": [{"filter": "datum.panel == 'b'"}], "mark": {"type": "point", "filled": true, "size": 45, "opacity": 1, "color": "#444"},
             "encoding": {"x": {"field": "wl", "type": "quantitative"}, "y": {"field": "abs", "type": "quantitative"}, "shape": {"field": "dir", "type": "nominal", "scale": {"domain": ["up", "down"], "range": ["M0,-1L0.55,1L-0.55,1Z", "M0,1L0.55,-1L-0.55,-1Z"]}, "legend": null}}},
            {"data": {"name": "notes"}, "transform": [{"filter": "datum.panel == 'b'"}], "mark": {"type": "text", "align": "left", "baseline": "middle", "fontSize": 15},
             "encoding": {"x": {"field": "wl", "type": "quantitative"}, "y": {"field": "abs", "type": "quantitative"}, "text": {"field": "text"}}}
          ]
        }
      ],
      "spacing": 18
    },
    {
      "hconcat": [
        {
          "width": 274, "height": 240,
          "title": {"text": "(c)"},
          "layer": [
            {"data": {"name": "curves"}, "transform": [{"filter": "datum.panel == 'c'"}], "mark": {"type": "line", "clip": true, "strokeWidth": 2.6},
             "encoding": {
               "x": {"field": "wl", "type": "quantitative", "scale": {"domain": [190, 495], "nice": false, "zero": false}, "axis": {"title": "Wavelength, nm", "values": [190, 290, 390, 490], "tickCount": 8, "offset": -34.3, "labelFlush": true, "labelOverlap": false, "ticks": false, "labelPadding": 6, "domainColor": "#999", "domainWidth": 1.2, "titleX": 162, "titlePadding": 3}},
               "y": {"field": "abs", "type": "quantitative", "scale": {"domain": [-0.2, 1.2], "nice": false}, "axis": {"title": "Absorbance, rel. units", "values": [-0.2, 0, 0.2, 0.4, 0.6, 0.8, 1.0, 1.2], "tickCount": 12, "labelExpr": "datum.value == 0 ? '0' : format(datum.value, '.1f')", "labelOverlap": false, "labelFlush": false, "ticks": false, "labelPadding": 7, "domainColor": "#333", "domainWidth": 1.5, "titlePadding": 4}},
               "color": {"field": "series", "type": "nominal", "scale": {"domain": ["1", "2", "3", "4", "5"], "range": ["#111111", "#a03c22", "#f2c500", "#1fa84a", "#e8251c"]}, "legend": null},
               "detail": {"field": "seg"}
             }},
            {"data": {"name": "hlines"}, "transform": [{"filter": "datum.panel == 'c'"}], "mark": {"type": "rule", "color": "#555", "strokeWidth": 1.3},
             "encoding": {"x": {"field": "wl", "type": "quantitative"}, "x2": {"field": "wl2"}, "y": {"field": "abs", "type": "quantitative"}}},
            {"data": {"name": "vlines"}, "transform": [{"filter": "datum.panel == 'c'"}], "mark": {"type": "rule", "color": "#444", "strokeWidth": 1.2},
             "encoding": {"x": {"field": "wl", "type": "quantitative"}, "y": {"field": "abs", "type": "quantitative"}, "y2": {"field": "abs2"}}},
            {"data": {"name": "heads"}, "transform": [{"filter": "datum.panel == 'c'"}], "mark": {"type": "point", "filled": true, "size": 45, "opacity": 1, "color": "#333"},
             "encoding": {"x": {"field": "wl", "type": "quantitative"}, "y": {"field": "abs", "type": "quantitative"}, "shape": {"field": "dir", "type": "nominal", "scale": {"domain": ["up", "down"], "range": ["M0,-1L0.55,1L-0.55,1Z", "M0,1L0.55,-1L-0.55,-1Z"]}, "legend": null}}},
            {"data": {"name": "notes"}, "transform": [{"filter": "datum.panel == 'c'"}], "mark": {"type": "text", "align": "left", "baseline": "middle", "fontSize": 15},
             "encoding": {"x": {"field": "wl", "type": "quantitative"}, "y": {"field": "abs", "type": "quantitative"}, "text": {"field": "text"}}}
          ]
        },
        {
          "width": 271, "height": 241,
          "title": {"text": "(d)"},
          "layer": [
            {"data": {"name": "curves"}, "transform": [{"filter": "datum.panel == 'd'"}], "mark": {"type": "line", "clip": true, "strokeWidth": 2.6},
             "encoding": {
               "x": {"field": "wl", "type": "quantitative", "scale": {"domain": [190, 497], "nice": false, "zero": false}, "axis": {"title": "Wavelength, nm", "values": [190, 290, 390, 490], "tickCount": 8, "offset": -34.4, "labelFlush": true, "labelOverlap": false, "ticks": false, "labelPadding": 6, "domainColor": "#999", "domainWidth": 1.2, "titleX": 158, "titlePadding": 3}},
               "y": {"field": "abs", "type": "quantitative", "scale": {"domain": [-0.2, 1.2], "nice": false}, "axis": {"title": "Absorbance, rel. units", "values": [-0.2, 0, 0.2, 0.4, 0.6, 0.8, 1.0, 1.2], "tickCount": 12, "labelExpr": "datum.value == 0 ? '0' : format(datum.value, '.1f')", "labelOverlap": false, "labelFlush": false, "ticks": false, "labelPadding": 7, "domainColor": "#333", "domainWidth": 1.5, "titlePadding": 4}},
               "color": {"field": "series", "type": "nominal", "scale": {"domain": ["1", "2", "3", "4", "5"], "range": ["#111111", "#a03c22", "#f2c500", "#1fa84a", "#e8251c"]}, "legend": null},
               "detail": {"field": "seg"}
             }},
            {"data": {"name": "hlines"}, "transform": [{"filter": "datum.panel == 'd'"}], "mark": {"type": "rule", "color": "#555", "strokeWidth": 1.3},
             "encoding": {"x": {"field": "wl", "type": "quantitative"}, "x2": {"field": "wl2"}, "y": {"field": "abs", "type": "quantitative"}}},
            {"data": {"name": "vlines"}, "transform": [{"filter": "datum.panel == 'd'"}], "mark": {"type": "rule", "color": "#444", "strokeWidth": 1.2},
             "encoding": {"x": {"field": "wl", "type": "quantitative"}, "y": {"field": "abs", "type": "quantitative"}, "y2": {"field": "abs2"}}},
            {"data": {"name": "heads"}, "transform": [{"filter": "datum.panel == 'd'"}], "mark": {"type": "point", "filled": true, "size": 45, "opacity": 1, "color": "#333"},
             "encoding": {"x": {"field": "wl", "type": "quantitative"}, "y": {"field": "abs", "type": "quantitative"}, "shape": {"field": "dir", "type": "nominal", "scale": {"domain": ["up", "down"], "range": ["M0,-1L0.55,1L-0.55,1Z", "M0,1L0.55,-1L-0.55,-1Z"]}, "legend": null}}},
            {"data": {"name": "notes"}, "transform": [{"filter": "datum.panel == 'd'"}], "mark": {"type": "text", "align": "left", "baseline": "middle", "fontSize": 15},
             "encoding": {"x": {"field": "wl", "type": "quantitative"}, "y": {"field": "abs", "type": "quantitative"}, "text": {"field": "text"}}}
          ]
        }
      ],
      "spacing": 20
    }
  ],
  "spacing": 3
}
